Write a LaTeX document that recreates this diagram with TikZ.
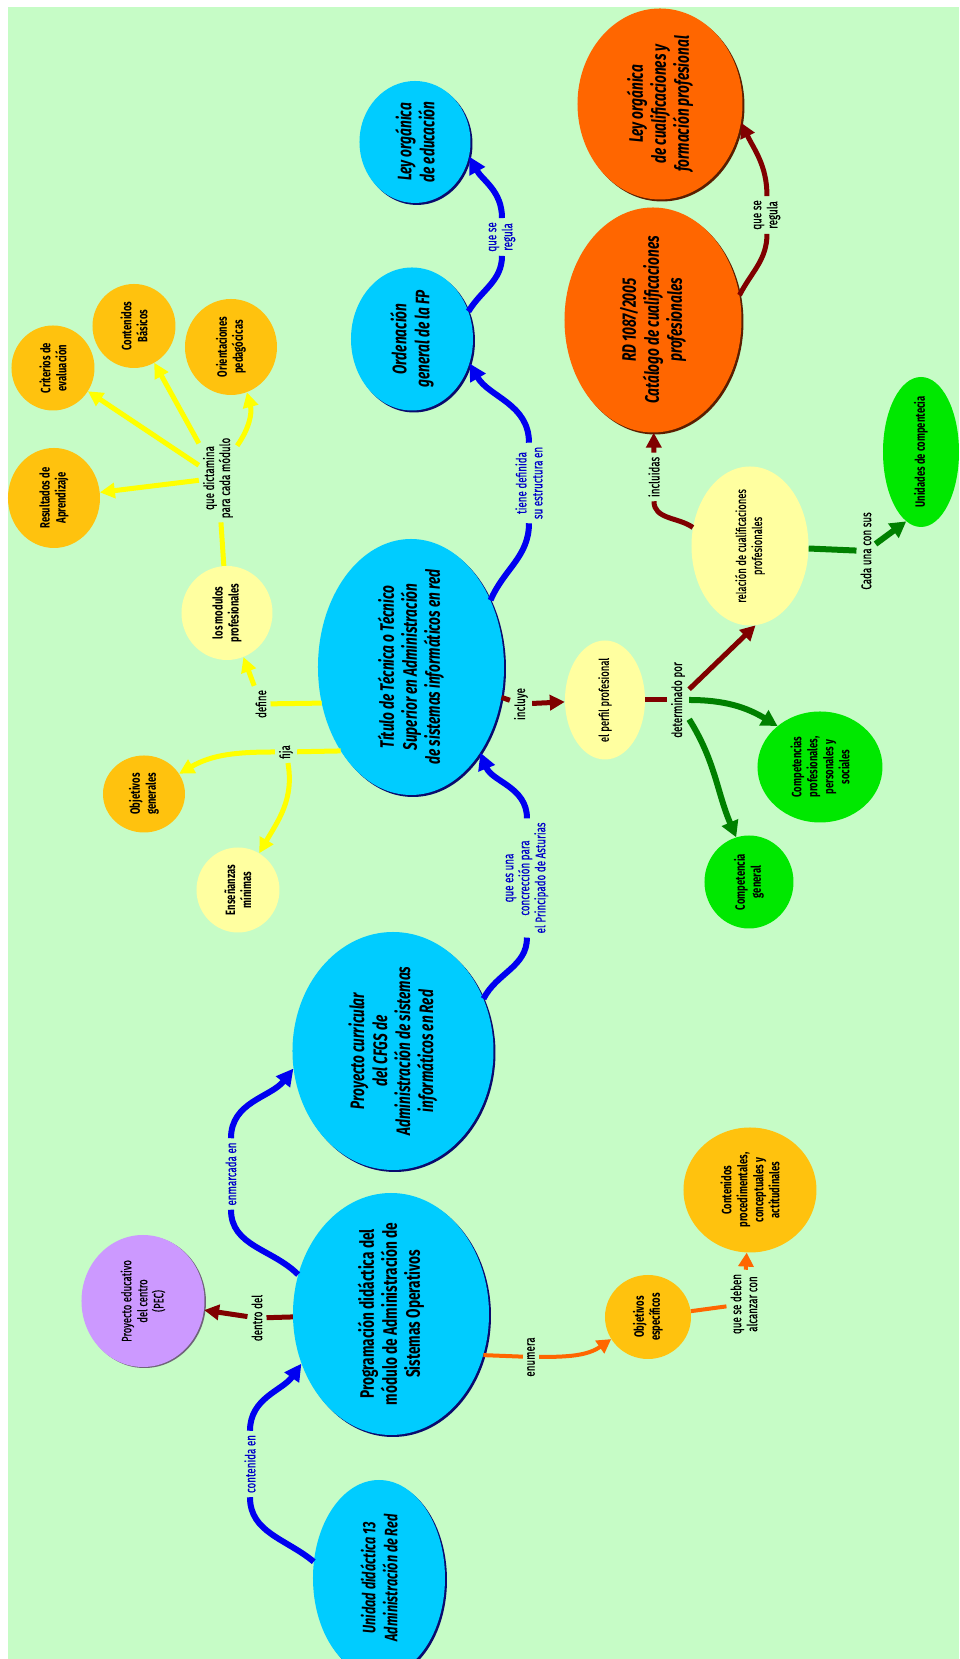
\documentclass[tikz,border=0pt]{standalone}
\usepackage{fontspec}
\setmainfont{Fira Sans}[FakeStretch=0.7]
\newfontfamily\linkfont{Fira Sans}[FakeStretch=0.7, FakeBold=0.6]
\usetikzlibrary{arrows.meta, shapes.geometric, shadows}

\definecolor{mintbg}{RGB}{198,252,198}
\definecolor{skyfill}{RGB}{0,204,255}
\definecolor{skyrim}{RGB}{10,10,110}
\definecolor{rustfill}{RGB}{255,102,0}
\definecolor{rustrim}{RGB}{90,30,0}
\definecolor{goldfill}{RGB}{255,194,14}
\definecolor{creamfill}{RGB}{255,255,160}
\definecolor{limefill}{RGB}{0,232,0}
\definecolor{lilacfill}{RGB}{204,153,255}
\definecolor{lilacrim}{RGB}{110,100,120}
\definecolor{arrowblue}{RGB}{0,0,240}
\definecolor{arrowred}{RGB}{128,0,0}
\definecolor{arrowyellow}{RGB}{255,255,0}
\definecolor{arrowgreen}{RGB}{0,128,0}
\definecolor{arrowrust}{RGB}{255,102,0}
\definecolor{wordblue}{RGB}{0,0,200}

\tikzset{
  concept/.style={ellipse, inner xsep=-30pt, inner ysep=-10pt, align=center},
  oval/.style 2 args={minimum width=#1pt, minimum height=#2pt},
  blueconcept/.style={concept, fill=skyfill,
    general shadow={fill=skyrim, shadow xshift=2pt, shadow yshift=-2pt},
    font=\fontsize{19.5}{23}\selectfont\bfseries\itshape},
  rustconcept/.style={concept, fill=rustfill,
    general shadow={fill=rustrim, shadow xshift=2pt, shadow yshift=-2pt},
    font=\fontsize{19.5}{23}\selectfont\bfseries\itshape},
  goldconcept/.style={concept, fill=goldfill,
    font=\fontsize{13.5}{16}\selectfont\bfseries},
  creamconcept/.style={concept, fill=creamfill,
    font=\fontsize{13.5}{16}\linkfont},
  limeconcept/.style={concept, fill=limefill,
    font=\fontsize{13.5}{16}\selectfont\bfseries},
  lilacconcept/.style={concept, fill=lilacfill,
    general shadow={fill=lilacrim, shadow xshift=1.5pt, shadow yshift=-1pt},
    font=\fontsize{13.5}{16}\linkfont},
  linkword/.style={inner sep=4pt, align=center,
    font=\fontsize{14}{16}\linkfont},
  bluelink/.style={linkword, text=wordblue},
  blueline/.style={draw=arrowblue, line width=6pt},
  blueflow/.style={blueline, -{Triangle[length=17pt, width=17pt]}},
  redline/.style={draw=arrowred, line width=5pt},
  redflow/.style={redline, -{Triangle[length=15pt, width=15pt]}},
  yellowline/.style={draw=arrowyellow, line width=5pt},
  yellowflow/.style={yellowline, -{Triangle[length=15pt, width=15pt]}},
  greenline/.style={draw=arrowgreen, line width=6pt},
  greenflow/.style={greenline, -{Triangle[length=16pt, width=17pt]}},
  rustline/.style={draw=arrowrust, line width=4pt},
  rustflow/.style={rustline, -{Triangle[length=14pt, width=15pt]}}
}

\begin{document}
\begin{tikzpicture}[x=1pt, y=1pt, rotate=90, transform shape]

\useasboundingbox (0,0) rectangle (1659,959);
\fill[mintbg] (0,0) rectangle (1652,951);

%% Blue concepts
\node[blueconcept, oval={196}{132}, font=\fontsize{18}{22}\selectfont\bfseries\itshape] (unidad) at (81,580) {Unidad didáctica 13\\Administración de Red};
\node[blueconcept, oval={242}{196}, font=\fontsize{19.5}{23}\selectfont\bfseries] (prog) at (345,568) {Programación didáctica del\\módulo de Administración de\\Sistemas Operativos};
\node[blueconcept, oval={238}{201}] (curric) at (608,566) {Proyecto curricular\\del CFGS de\\Administración de sistemas\\informáticos en Red};
\node[blueconcept, oval={256}{186}] (titulo) at (992,548) {Título de Técnica o Técnico\\Superior en Administración\\de sistemas informáticos en red};
\node[blueconcept, oval={143}{122}] (ordenac) at (1320,547) {Ordenación\\general de la FP};
\node[blueconcept, oval={122}{111}] (loe) at (1517,544) {Ley orgánica\\de educación};

%% Laws
\node[rustconcept, oval={225}{177}] (rd) at (1339,306) {RD 1087/2005\\Catálogo de cualificaciones\\profesionales};
\node[rustconcept, oval={191}{165}] (loc) at (1555,299) {Ley orgánica\\de cualificaciones y\\formación profesional};

%% Small concepts
\node[lilacconcept, oval={132}{123}] (pec) at (358,816) {Proyecto educativo\\del centro\\(PEC)};
\node[goldconcept, oval={84}{86}] (objesp) at (342,311) {Objetivos\\específicos};
\node[goldconcept, oval={125}{133}] (contproc) at (469,209) {Contenidos\\procedimentales,\\conceptuales y\\actitudinales};
\node[goldconcept, oval={77}{82}] (objgen) at (865,815) {Objetivos\\generales};
\node[creamconcept, oval={85}{83}, font=\fontsize{13.5}{16}\selectfont\bfseries] (ensen) at (769,721) {Enseñanzas\\mínimas};
\node[creamconcept, oval={94}{91}, font=\fontsize{13.5}{16}\selectfont\bfseries] (modulos) at (1046,732) {los modulos\\profesionales};
\node[goldconcept, oval={100}{92}] (result) at (1161,905) {Resultados de\\Aprendizaje};
\node[goldconcept, oval={85}{83}] (criter) at (1291,906) {Criterios de\\evaluación};
\node[goldconcept, oval={84}{83}] (conten) at (1333,825) {Contenidos\\Básicos};
\node[goldconcept, oval={96}{92}] (orient) at (1312,728) {Orientaciones\\pedagócicas};
\node[creamconcept, oval={119}{80}] (perfil) at (959,354) {el perfil profesional};
\node[creamconcept, oval={159}{117}] (relac) at (1113,209) {relación de cualificaciones\\profesionales};
\node[limeconcept, oval={93}{89}] (compgen) at (777,210) {Competencia\\general};
\node[limeconcept, oval={111}{125}] (comprof) at (892,139) {Competencias\\profesionales,\\personales y\\sociales};
\node[limeconcept, oval={150}{76}] (unidcomp) at (1207,38) {Unidades de compentecia};

%% Linking words
\node[bluelink] (lcontenida) at (195,709) {contenida en};
\node[bluelink] (lenmarcada) at (485,728) {enmarcada en};
\node[linkword] (ldentro) at (341,702) {dentro del};
\node[linkword] (lenumera) at (302,428) {enumera};
\node[linkword] (lalcanzar) at (355,215) {que se deben\\alcanzar con};
\node[bluelink] (lconcrecion) at (781,432) {que es una\\concrección para\\el Principado de Asturias};
\node[linkword] (ldefine) at (955,698) {define};
\node[linkword] (lfija) at (907,673) {fija};
\node[linkword] (ldictamina) at (1181,741) {que dictamina\\para cada módulo};
\node[linkword] (lincluye) at (955,438) {incluye};
\node[linkword] (ldetermin) at (959,281) {determinado por};
\node[bluelink] (lestructura) at (1176,430) {tiene definida\\su estructura en};
\node[bluelink] (lregula) at (1422,457) {que se\\regula};
\node[linkword] (lincluidas) at (1182,305) {incluidas};
\node[linkword] (lregulacq) at (1444,192) {que se\\regula};
\node[linkword] (lcada) at (1108,93) {Cada una con sus};

%% ── Unidad -> Programación -> Proyecto curricular
\draw[blueline] (unidad.76) to[out=50, in=180] (lcontenida);
\draw[blueflow] (lcontenida) to[out=0, in=145] (prog.119);
\draw[blueline] (prog.67) to[out=45, in=180] (lenmarcada);
\draw[blueflow] (lenmarcada) to[out=0, in=142] (curric.100);

%% ── Programación -> PEC, objetivos
\draw[redline] (prog) -- (ldentro);
\draw[redflow] (ldentro) -- (pec);
\draw[rustline] (prog.246) -- (lenumera);
\draw[rustflow] (lenumera) to[out=-90, in=125] (objesp.121);
\draw[rustline] (objesp) -- (lalcanzar);
\draw[rustflow] (lalcanzar) -- (contproc);

%% ── Proyecto curricular -> Título
\draw[blueline] (curric.-60) to[out=-27, in=180] (lconcrecion);
\draw[blueflow] (lconcrecion) to[out=0, in=202] (titulo.219);

%% ── Título: fija / define
\draw[yellowline] (titulo.140) -- (lfija);
\draw[yellowflow] (lfija) to[out=90, in=-60] (objgen);
\draw[yellowflow] (lfija) to[out=190, in=-30] (ensen);
\draw[yellowline] (titulo.112) -- (ldefine);
\draw[yellowflow] (ldefine) -- (modulos);
\draw[yellowline] (modulos) -- (ldictamina);
\draw[yellowflow] (ldictamina) -- (result);
\draw[yellowflow] (ldictamina) -- (criter);
\draw[yellowflow] (ldictamina) -- (conten);
\draw[yellowflow] (ldictamina) to[bend right=25] (orient);

%% ── Título -> Ordenación -> Ley orgánica
\draw[blueline] (titulo.-50) to[out=-23, in=180] (lestructura);
\draw[blueflow] (lestructura) to[out=0, in=210] (ordenac.247);
\draw[blueline] (ordenac.-64) to[out=-31, in=180] (lregula);
\draw[blueflow] (lregula) to[out=0, in=209] (loe.255);

%% ── Título -> perfil profesional
\draw[redline] (titulo) -- (lincluye);
\draw[redflow] (lincluye) -- (perfil);
\draw[redline] (perfil) -- (ldetermin);
\draw[redflow] (ldetermin) -- (relac.184);
\draw[greenflow] (ldetermin) to[out=-90, in=59] (comprof.46);
\draw[greenflow] (ldetermin.-150) to[out=212, in=23] (compgen.16);

%% ── cualificaciones
\draw[redline] (relac.72) to[out=55, in=180] (lincluidas);
\draw[redflow] (lincluidas) -- (rd);
\draw[redline] (rd.-74) to[out=-27, in=180] (lregulacq);
\draw[redflow] (lregulacq) to[out=0, in=206] (loc.257);
\draw[greenline] (relac) -- (lcada);
\draw[greenflow] (lcada) -- (unidcomp.168);

\end{tikzpicture}
\end{document}
